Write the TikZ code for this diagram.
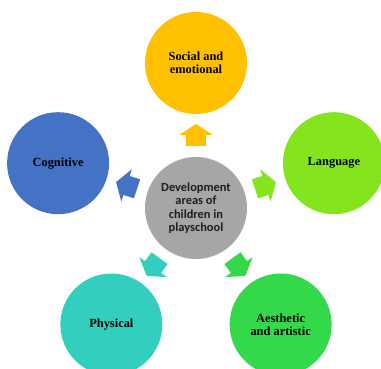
\documentclass[tikz,border=0pt]{standalone}
\usepackage{fontspec}
\setmainfont{Liberation Serif}
\newfontfamily\hubfont{Carlito}
\definecolor{socialfill}{HTML}{FFC000}
\definecolor{cognitivefill}{HTML}{4472C4}
\definecolor{languagefill}{HTML}{84E41E}
\definecolor{aestheticfill}{HTML}{33D94A}
\definecolor{physicalfill}{HTML}{33CFBE}
\definecolor{hubfill}{HTML}{A6A6A6}
\definecolor{hubtext}{HTML}{1E1E1E}
\begin{document}
\begin{tikzpicture}[x=1pt,y=1pt,
  area/.style={circle, minimum size=102pt, inner sep=0pt, align=center,
    font=\bfseries\fontsize{12.4}{13.4}\selectfont, text=black},
  hub/.style={circle, minimum size=102pt, inner sep=0pt, align=center, fill=hubfill,
    font=\hubfont\bfseries\fontsize{12.4}{13.4}\selectfont, text=hubtext},
  blockarrow/.style={draw=none}]
\useasboundingbox (-196,-161) rectangle (185,208);
\clip (-196,-161) rectangle (185,208);

% central hub
\node[hub] (hub) at (0,0) {Development\\areas of\\children in\\playschool};

% five development areas around the hub
\node[area, fill=socialfill]    (social)    at (90:145)  {Social and\\emotional};
\node[area, fill=languagefill]  (language)  at (18:145)  {Language};
\node[area, fill=cognitivefill] (cognitive) at (162:145) {Cognitive};
\node[area, fill=physicalfill]  (physical)  at (234:144) {Physical};
\node[area, fill=aestheticfill] (aesthetic) at (306:144) {Aesthetic\\and artistic};

% block arrows pointing from the hub to each area
\foreach \ang/\col in {90/socialfill, 18/languagefill, 162/cognitivefill,
                       234/physicalfill, 306/aestheticfill}{
  \begin{scope}[shift={(hub.center)}, rotate=\ang]
    \fill[blockarrow, \col] (62,-10) -- (73,-10) -- (73,-17) -- (84,0)
      -- (73,17) -- (73,10) -- (62,10) -- cycle;
  \end{scope}
}
\end{tikzpicture}
\end{document}
